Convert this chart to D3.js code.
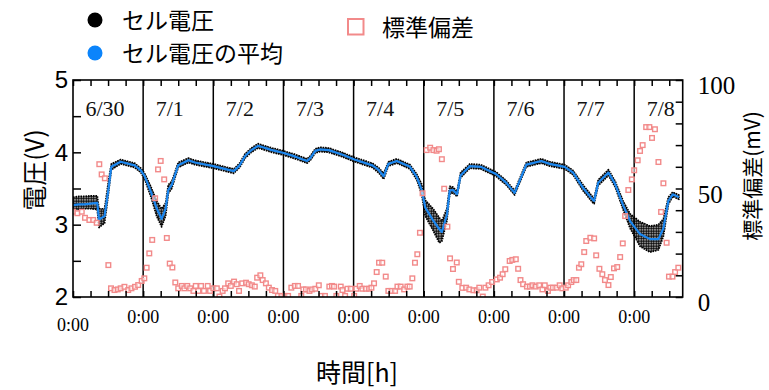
<!DOCTYPE html>
<html>
<head>
<meta charset="utf-8">
<script src="https://cdn.jsdelivr.net/npm/d3@7"></script>
<style>
  body { margin: 0; background: #fff; }
  svg { display: block; }
</style>
</head>
<body>
<svg id="chart" width="769" height="390"></svg>
<script>
// ---- data -------------------------------------------------------------
// day labels and the hour (from 6/30 0:00) at which each day starts
const dayLabels = ["6/30", "7/1", "7/2", "7/3", "7/4", "7/5", "7/6", "7/7", "7/8"];
const dayStartHour = [0, 24, 48, 72, 96, 120, 144, 168, 192];
const timeLabel = "0:00";

// average cell voltage [V]
const meanHour = [
  0, 2, 4, 6, 8.3, 8.9, 10.8, 12.2, 13.1, 16.3, 21.1, 23.2,
  24.5, 26.7, 28.6, 30.3, 31.7, 32.6, 33.8, 35.0, 36.0, 39.5, 41.7,
  48.0, 55.0, 57.0, 58.9, 61.0, 63.3, 68.1,
  72.1, 76.1, 80.1, 81.2, 82.9, 84.5, 87.5, 92.0,
  96.3, 102.4, 104.5, 106.3, 107.9, 110.8, 115.3, 117.6, 119.3,
  120.5, 123.2, 125.3, 126.2, 127.9, 128.9, 130.0, 131.4, 132.6, 135.8, 139.5,
  144.7, 148.2, 151.1, 155.1, 160.2, 163.1,
  168.2, 171.1, 174.5, 177.7, 178.3, 179.7, 183.2, 185.5, 188.3, 190.6,
  194.0, 197.4, 200.3, 202.0, 203.7, 205.2, 207.3
];
const meanVolt = [
  3.27, 3.28, 3.28, 3.29, 3.30, 3.07, 3.12, 3.51, 3.80, 3.87, 3.82, 3.75,
  3.67, 3.45, 3.23, 3.08, 3.22, 3.48, 3.55, 3.70, 3.82, 3.89, 3.86,
  3.81, 3.74, 3.82, 3.95, 4.03, 4.09, 4.03,
  3.99, 3.94, 3.88, 3.92, 4.02, 4.04, 4.03, 3.97,
  3.90, 3.82, 3.76, 3.67, 3.84, 3.88, 3.80, 3.66, 3.48,
  3.24, 3.06, 2.94, 2.90, 3.13, 3.47, 3.48, 3.42, 3.68, 3.81, 3.80,
  3.70, 3.58, 3.44, 3.83, 3.88, 3.84,
  3.80, 3.72, 3.51, 3.35, 3.33, 3.58, 3.72, 3.56, 3.26, 3.05,
  2.87, 2.80, 2.80, 2.95, 3.33, 3.42, 3.38
];
// lowest and highest single-cell voltage at the same hours [V]
const cellLow = [
  3.21, 3.21, 3.22, 3.22, 3.21, 2.96, 3.02, 3.45, 3.76, 3.84, 3.79, 3.72,
  3.63, 3.38, 3.12, 2.97, 3.12, 3.43, 3.50, 3.66, 3.79, 3.86, 3.83,
  3.78, 3.71, 3.79, 3.92, 4.00, 4.06, 4.00,
  3.96, 3.91, 3.85, 3.89, 3.99, 4.01, 4.00, 3.94,
  3.87, 3.79, 3.72, 3.63, 3.81, 3.85, 3.77, 3.62, 3.42,
  3.12, 2.92, 2.75, 2.77, 3.05, 3.42, 3.44, 3.39, 3.65, 3.78, 3.77,
  3.67, 3.55, 3.41, 3.80, 3.85, 3.81,
  3.77, 3.69, 3.47, 3.31, 3.29, 3.54, 3.68, 3.52, 3.20, 2.95,
  2.70, 2.62, 2.65, 2.84, 3.28, 3.39, 3.35
];
const cellHigh = [
  3.38, 3.39, 3.39, 3.40, 3.40, 3.22, 3.22, 3.62, 3.84, 3.90, 3.85, 3.78,
  3.71, 3.52, 3.33, 3.22, 3.30, 3.55, 3.60, 3.74, 3.86, 3.92, 3.89,
  3.84, 3.77, 3.85, 3.98, 4.06, 4.12, 4.06,
  4.02, 3.97, 3.91, 3.95, 4.05, 4.07, 4.06, 4.00,
  3.93, 3.85, 3.79, 3.71, 3.87, 3.91, 3.83, 3.70, 3.56,
  3.34, 3.22, 3.10, 3.05, 3.22, 3.53, 3.52, 3.46, 3.72, 3.84, 3.83,
  3.73, 3.61, 3.47, 3.86, 3.91, 3.87,
  3.83, 3.75, 3.55, 3.39, 3.37, 3.62, 3.76, 3.60, 3.32, 3.15,
  3.04, 2.98, 3.00, 3.08, 3.38, 3.45, 3.41
];

// standard deviation between cells [mV]
const sdHour = [
  0, 1.5, 3.0, 4.1, 5.6, 6.9, 8.1, 9.0, 9.8, 10.9, 12.1, 13.0, 14.2, 15.3, 16.3, 17.6, 18.9, 20.0, 21.2, 22.3, 23.5, 24.4,
  25.2, 26.1, 27.1, 28.1, 29.1, 30.0, 31.2, 32.1, 33.1, 34.0, 35.0, 36.0, 37.2, 38.1, 39.1, 40.1, 41.2, 42.0, 42.9, 43.8, 44.8, 46.1, 46.9,
  48.0, 49.2, 50.1, 51.2, 52.0, 53.1, 54.0, 55.1, 56.0, 56.8, 57.9, 59.2, 60.1, 61.2, 62.2, 63.0, 64.1, 64.9, 66.0, 67.0, 68.1, 69.2, 70.1, 71.3,
  72.4, 73.6, 74.7, 75.9, 77.0, 78.1, 78.8, 79.7, 80.9, 81.8, 82.9, 84.1, 85.0, 86.2, 87.7, 88.6, 89.3, 90.1, 91.6, 92.2, 93.1, 93.9, 95.0,
  96.2, 96.9, 98.1, 99.0, 100.2, 101.3, 102.1, 103.0, 103.9, 104.7, 105.8, 107.0, 107.9, 109.0, 110.2, 111.0, 112.1, 113.3, 114.4, 115.2, 116.1, 117.0, 117.8, 118.7, 119.6,
  121.0, 122.2, 123.3, 124.4, 125.2, 126.2, 127.0, 128.1, 129.0, 130.0, 131.3, 132.0, 133.2, 134.5, 135.6, 137.0, 138.1, 139.0, 140.2, 141.1, 142.2, 143.4,
  145.0, 146.1, 147.0, 147.9, 149.4, 150.3, 151.5, 152.3, 153.1, 154.0, 155.3, 156.3, 157.2, 158.3, 159.5, 160.6, 161.4, 162.5, 163.3, 164.2, 165.4, 166.5, 167.4,
  168.6, 169.4, 170.5, 171.3, 172.2, 173.1, 173.9, 174.9, 175.6, 177.0, 178.3, 179.0, 180.1, 181.1, 182.0, 183.2, 184.0, 185.1, 186.2, 187.2, 188.1, 188.9, 190.0, 191.2,
  192.0, 193.2, 194.0, 194.9, 196.1, 197.2, 198.1, 199.1, 200.3, 201.2, 202.0, 203.1, 203.9, 205.1, 206.0, 207.1
];
const sdValue = [
  39.3, 38.6, 39.3, 36.5, 35.5, 35.5, 34.2, 61.2, 56.5, 54.7, 14.7, 4.0, 3.2, 3.5, 4.0, 4.7, 3.2, 4.0, 4.7, 5.5, 7.4, 8.6,
  13.5, 20.1, 26.3, 45.5, 58.8, 62.7, 54.2, 27.2, 15.4, 13.6, 6.7, 4.0, 5.1, 4.0, 5.1, 4.0, 2.8, 5.1, 2.8, 5.1, 2.8, 5.1, 2.8,
  4.0, 4.0, 0.2, 2.8, 4.0, 6.3, 5.1, 7.1, 5.9, 2.8, 6.3, 6.6, 5.9, 5.4, 4.8, 8.9, 10.0, 7.8, 6.3, 4.3, 3.2, 2.8, 0.5, 0.5,
  0.5, 0.5, 4.3, 5.1, 5.1, 0.5, 3.5, 3.5, 2.8, 3.5, 3.8, 5.4, 0.5, 0.5, 4.8, 5.1, 4.8, 0.5, 4.8, 3.2, 0.5, 3.8, 3.8,
  0.5, 3.8, 5.1, 3.8, 3.8, 3.8, 4.3, 6.3, 11.5, 15.8, 15.8, 9.4, 2.8, 2.8, 2.8, 4.8, 4.8, 3.5, 4.8, 4.8, 8.6, 15.8, 19.7, 29.6, 47.8,
  67.7, 68.8, 67.7, 67.4, 68.1, 63.5, 49.9, 32.4, 17.8, 12.9, 15.9, 7.0, 4.2, 4.3, 3.5, 3.1, 3.1, 4.3, 0.2, 4.3, 5.4, 6.9,
  8.1, 8.9, 10.5, 12.8, 16.6, 17.1, 17.4, 13.0, 7.8, 5.9, 4.8, 4.8, 5.4, 4.8, 5.4, 3.5, 5.4, 2.8, 4.3, 4.3, 4.3, 5.4, 4.0,
  4.3, 5.4, 6.9, 7.8, 7.8, 13.5, 15.1, 20.7, 25.8, 27.3, 27.0, 19.2, 13.0, 10.5, 7.8, 5.5, 9.2, 13.2, 13.8, 18.4, 24.7, 37.3, 49.3, 54.2,
  58.4, 63.0, 67.3, 70.0, 78.3, 78.3, 73.3, 77.3, 62.2, 39.2, 52.4, 25.0, 9.4, 9.4, 11.5, 13.5
];

// axis ticks
const voltTicks = [2, 2.5, 3, 3.5, 4, 4.5, 5];
const voltTickLabels = [2, 3, 4, 5];
const sdTicks = [0, 10, 20, 30, 40, 50, 60, 70, 80, 90, 100];
const sdTickLabels = [0, 50, 100];
const hourTicks = d3.range(0, 208, 6);

// legend / titles
const legendCell = "セル電圧";
const legendMean = "セル電圧の平均";
const legendSd = "標準偏差";
const yTitle = "電圧(V)";
const y2Title = "標準偏差(mV)";
const xTitle = "時間[h]";

// ---- layout -----------------------------------------------------------
const plot = { left: 73, right: 682.7, top: 80, bottom: 297 };
const SANS = "'Liberation Sans', Arial, sans-serif";
const SERIF = "'Liberation Serif', 'Times New Roman', serif";
const CJK = "'Noto Sans CJK JP', 'Noto Sans', sans-serif";
const BLUE = "#1a86ef";
const PINK = "#f28a8a";

const svg = d3.select("#chart");

const x = d3.scaleLinear().domain([0, 208.6]).range([plot.left, plot.right]);
const yV = d3.scaleLinear().domain([2, 5]).range([plot.bottom, plot.top]);
const yS = d3.scaleLinear().domain([0, 100]).range([plot.bottom, plot.top]);

const defs = svg.append("defs");
defs.append("clipPath").attr("id", "plotClip")
  .append("rect")
  .attr("x", plot.left).attr("y", plot.top)
  .attr("width", plot.right - plot.left).attr("height", plot.bottom - plot.top);

// dotted texture for the spread of individual cell readings
const pat = defs.append("pattern").attr("id", "cellDots")
  .attr("patternUnits", "userSpaceOnUse").attr("width", 2.5).attr("height", 2.5);
pat.append("circle").attr("cx", 1.25).attr("cy", 1.25).attr("r", 1.2).attr("fill", "#000");

// ---- day separators and labels ---------------------------------------
svg.append("g").selectAll("line")
  .data(dayStartHour.slice(1))
  .join("line")
  .attr("x1", d => x(d)).attr("x2", d => x(d))
  .attr("y1", plot.top).attr("y2", plot.bottom)
  .attr("stroke", "#000").attr("stroke-width", 1.5);

svg.append("g").selectAll("text")
  .data(dayLabels)
  .join("text")
  .attr("x", (d, i) => x(dayStartHour[i]) + 12.5)
  .attr("y", 116)
  .attr("font-family", SERIF).attr("font-size", 22).attr("fill", "#111")
  .text(d => d);

// ---- marks ------------------------------------------------------------
const idx = d3.range(meanHour.length);
const marks = svg.append("g").attr("clip-path", "url(#plotClip)");

// spread of the cell voltages
const spread = d3.area()
  .x(i => x(meanHour[i]))
  .y0(i => yV(cellLow[i]))
  .y1(i => yV(cellHigh[i]));
marks.append("path")
  .datum(idx)
  .attr("d", spread)
  .attr("fill", "url(#cellDots)")
  .attr("stroke", "#000").attr("stroke-width", 1.7)
  .attr("stroke-dasharray", "1.6 0.9")
  .attr("stroke-linejoin", "round");

// average voltage
const meanLine = d3.line()
  .x(i => x(meanHour[i]))
  .y(i => yV(meanVolt[i]));
marks.append("path")
  .datum(idx)
  .attr("d", meanLine)
  .attr("fill", "none")
  .attr("stroke", BLUE).attr("stroke-width", 2.2)
  .attr("stroke-linejoin", "round");

// standard deviation
const sq = 4.6;
marks.append("g").selectAll("rect")
  .data(d3.range(sdHour.length))
  .join("rect")
  .attr("x", i => x(sdHour[i]) - sq / 2)
  .attr("y", i => yS(sdValue[i]) - sq / 2)
  .attr("width", sq).attr("height", sq)
  .attr("fill", "rgba(255,255,255,0.55)")
  .attr("stroke", PINK).attr("stroke-width", 1.4);

// ---- frame and axes ---------------------------------------------------
svg.append("rect")
  .attr("x", plot.left).attr("y", plot.top)
  .attr("width", plot.right - plot.left).attr("height", plot.bottom - plot.top)
  .attr("fill", "none").attr("stroke", "#000").attr("stroke-width", 1.6);

function styleAxis(g, family, size) {
  g.select(".domain").remove();
  g.attr("font-family", family).attr("font-size", size);
  g.selectAll(".tick line").attr("stroke", "#000").attr("stroke-width", 1.5);
  g.selectAll(".tick text").attr("fill", "#000");
}

const gLeft = svg.append("g")
  .attr("transform", `translate(${plot.left},0)`)
  .call(d3.axisLeft(yV).tickValues(voltTicks).tickSize(-8).tickPadding(5)
    .tickFormat(d => voltTickLabels.includes(d) ? d3.format("d")(d) : ""));
styleAxis(gLeft, SANS, 24);

const gRight = svg.append("g")
  .attr("transform", `translate(${plot.right},0)`)
  .call(d3.axisRight(yS).tickValues(sdTicks).tickSize(-7).tickPadding(15)
    .tickFormat(d => sdTickLabels.includes(d) ? d3.format("d")(d) : ""));
styleAxis(gRight, SERIF, 25);
gRight.selectAll(".tick text").attr("dy", "0.55em");

const gBottom = svg.append("g")
  .attr("transform", `translate(0,${plot.bottom})`)
  .call(d3.axisBottom(x).tickValues(hourTicks).tickSize(-6).tickFormat(""));
styleAxis(gBottom, SERIF, 18);

const gTop = svg.append("g")
  .attr("transform", `translate(0,${plot.top})`)
  .call(d3.axisTop(x).tickValues(hourTicks).tickSize(-6).tickFormat(""));
styleAxis(gTop, SERIF, 18);

// midnight labels under each day boundary
svg.append("g").selectAll("text")
  .data(dayStartHour)
  .join("text")
  .attr("x", d => x(d))
  .attr("y", (d, i) => i === 0 ? 331 : 323)
  .attr("text-anchor", "middle")
  .attr("font-family", SERIF).attr("font-size", 18).attr("fill", "#000")
  .text(timeLabel);

// ---- titles -----------------------------------------------------------
svg.append("text")
  .attr("transform", "translate(33,170) rotate(-90)")
  .attr("text-anchor", "middle").attr("dominant-baseline", "central")
  .attr("font-family", CJK).attr("font-size", 25).attr("fill", "#000")
  .text(yTitle);

svg.append("text")
  .attr("transform", "translate(751,176) rotate(-90)")
  .attr("text-anchor", "middle").attr("dominant-baseline", "central")
  .attr("font-family", CJK).attr("font-size", 21).attr("fill", "#000")
  .text(y2Title);

svg.append("text")
  .attr("x", 357).attr("y", 382)
  .attr("text-anchor", "middle")
  .attr("font-family", CJK).attr("font-size", 25).attr("fill", "#000")
  .text(xTitle);

// ---- legend -----------------------------------------------------------
const lg = svg.append("g").attr("font-family", CJK).attr("font-size", 23).attr("fill", "#000");
lg.append("circle").attr("cx", 95).attr("cy", 20).attr("r", 7.5).attr("fill", "#000");
lg.append("text").attr("x", 122).attr("y", 29).text(legendCell);
lg.append("circle").attr("cx", 95).attr("cy", 53).attr("r", 7.5).attr("fill", "#0b84fb");
lg.append("text").attr("x", 122).attr("y", 62).text(legendMean);
lg.append("rect").attr("x", 348).attr("y", 19).attr("width", 15.5).attr("height", 15.5)
  .attr("fill", "#fff").attr("stroke", PINK).attr("stroke-width", 2);
lg.append("text").attr("x", 382).attr("y", 36).text(legendSd);
</script>
</body>
</html>
